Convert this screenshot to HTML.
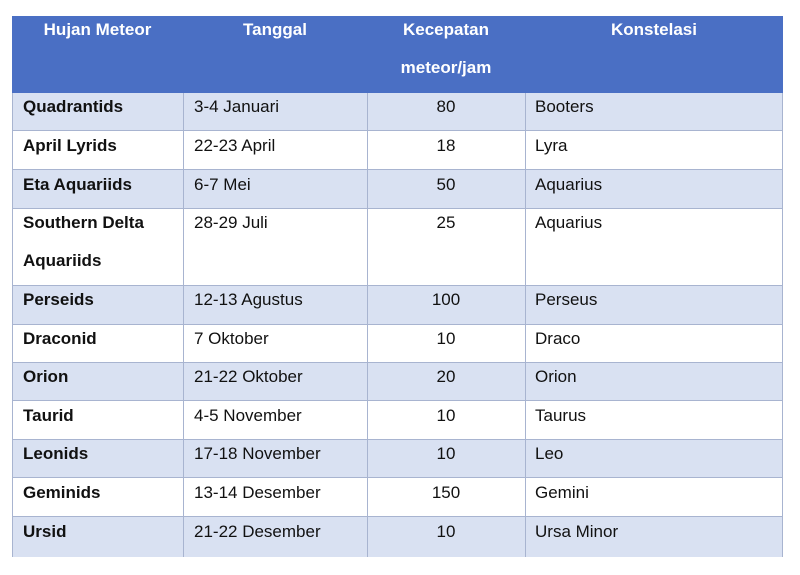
<!DOCTYPE html>
<html><head><meta charset="utf-8"><style>
body{margin:0;background:#fff;width:800px;height:575px;position:relative;overflow:hidden;font-family:"Liberation Sans",sans-serif;color:#111}
.r{position:absolute;left:12px;width:771px;border-bottom:1px solid #a8b4d0;box-sizing:border-box}
.b{background:#d9e1f2}
.v{position:absolute;top:93px;height:464px;width:1px;background:#a8b4d0}
.t{position:absolute;font-size:17px;line-height:20px;white-space:nowrap}
.h{position:absolute;font-size:17px;font-weight:bold;color:#fff;line-height:20px;text-align:center}
.bold{font-weight:bold}
.c{text-align:center;width:158px;left:367px}
</style></head><body>
<div style="position:absolute;left:12px;top:16px;width:771px;height:77px;background:#4a6fc4"></div>
<div class="h" style="left:12px;width:171px;top:20px">Hujan Meteor</div>
<div class="h" style="left:183px;width:184px;top:20px">Tanggal</div>
<div class="h" style="left:367px;width:158px;top:20px">Kecepatan</div>
<div class="h" style="left:367px;width:158px;top:58px">meteor/jam</div>
<div class="h" style="left:525px;width:258px;top:20px">Konstelasi</div>

<div class="r b" style="top:93px;height:38px"></div>
<div class="r" style="top:131px;height:39px"></div>
<div class="r b" style="top:170px;height:39px"></div>
<div class="r" style="top:209px;height:77px"></div>
<div class="r b" style="top:286px;height:39px"></div>
<div class="r" style="top:325px;height:38px"></div>
<div class="r b" style="top:363px;height:38px"></div>
<div class="r" style="top:401px;height:39px"></div>
<div class="r b" style="top:440px;height:38px"></div>
<div class="r" style="top:478px;height:39px"></div>
<div class="r b" style="top:517px;height:40px;border-bottom:none"></div>
<div class="v" style="left:12px"></div>
<div class="v" style="left:183px"></div>
<div class="v" style="left:367px"></div>
<div class="v" style="left:525px"></div>
<div class="v" style="left:782px"></div>

<div class="t bold" style="left:23px;top:97px">Quadrantids</div><div class="t" style="left:194px;top:97px">3-4 Januari</div><div class="t c" style="top:97px">80</div><div class="t" style="left:535px;top:97px">Booters</div>
<div class="t bold" style="left:23px;top:136px">April Lyrids</div><div class="t" style="left:194px;top:136px">22-23 April</div><div class="t c" style="top:136px">18</div><div class="t" style="left:535px;top:136px">Lyra</div>
<div class="t bold" style="left:23px;top:175px">Eta Aquariids</div><div class="t" style="left:194px;top:175px">6-7 Mei</div><div class="t c" style="top:175px">50</div><div class="t" style="left:535px;top:175px">Aquarius</div>
<div class="t bold" style="left:23px;top:213px">Southern Delta</div><div class="t bold" style="left:23px;top:251px">Aquariids</div><div class="t" style="left:194px;top:213px">28-29 Juli</div><div class="t c" style="top:213px">25</div><div class="t" style="left:535px;top:213px">Aquarius</div>
<div class="t bold" style="left:23px;top:290px">Perseids</div><div class="t" style="left:194px;top:290px">12-13 Agustus</div><div class="t c" style="top:290px">100</div><div class="t" style="left:535px;top:290px">Perseus</div>
<div class="t bold" style="left:23px;top:329px">Draconid</div><div class="t" style="left:194px;top:329px">7 Oktober</div><div class="t c" style="top:329px">10</div><div class="t" style="left:535px;top:329px">Draco</div>
<div class="t bold" style="left:23px;top:367px">Orion</div><div class="t" style="left:194px;top:367px">21-22 Oktober</div><div class="t c" style="top:367px">20</div><div class="t" style="left:535px;top:367px">Orion</div>
<div class="t bold" style="left:23px;top:406px">Taurid</div><div class="t" style="left:194px;top:406px">4-5 November</div><div class="t c" style="top:406px">10</div><div class="t" style="left:535px;top:406px">Taurus</div>
<div class="t bold" style="left:23px;top:444px">Leonids</div><div class="t" style="left:194px;top:444px">17-18 November</div><div class="t c" style="top:444px">10</div><div class="t" style="left:535px;top:444px">Leo</div>
<div class="t bold" style="left:23px;top:483px">Geminids</div><div class="t" style="left:194px;top:483px">13-14 Desember</div><div class="t c" style="top:483px">150</div><div class="t" style="left:535px;top:483px">Gemini</div>
<div class="t bold" style="left:23px;top:522px">Ursid</div><div class="t" style="left:194px;top:522px">21-22 Desember</div><div class="t c" style="top:522px">10</div><div class="t" style="left:535px;top:522px">Ursa Minor</div>
</body></html>
